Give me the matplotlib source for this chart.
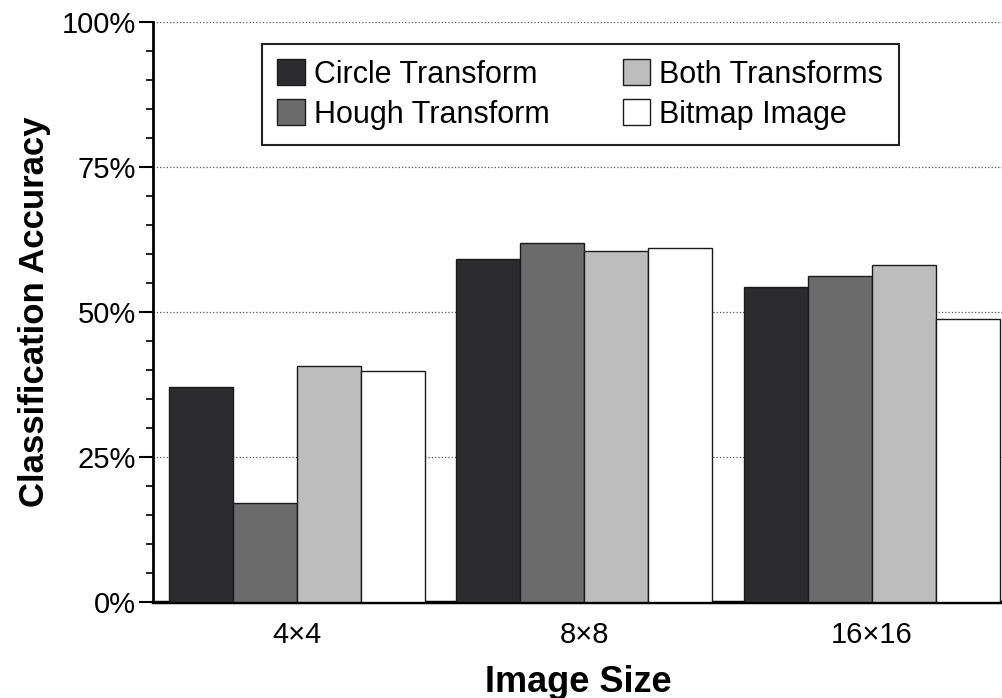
import matplotlib
matplotlib.use('Agg')
import matplotlib.pyplot as plt
from matplotlib.ticker import MultipleLocator, FuncFormatter
import numpy as np

sizes = ['4\u00d74', '8\u00d78', '16\u00d716']
series = ['Circle Transform', 'Hough Transform', 'Both Transforms', 'Bitmap Image']
circle = [37.1, 59.1, 54.3]
hough = [17.1, 61.9, 56.2]
both = [40.7, 60.5, 58.1]
bitmap = [39.8, 61.0, 48.8]

plt.rcParams['font.family'] = ['Liberation Sans', 'DejaVu Sans']

fig = plt.figure(figsize=(10.03, 6.98), dpi=100)
ax = fig.add_axes([0.1525, 0.1375, 0.8475, 0.831])

x = np.arange(len(sizes))
w = 0.2226
colors = ['#2c2c2e', '#6b6b6b', '#bdbdbd', '#ffffff']
for i, (name, vals) in enumerate(zip(series, [circle, hough, both, bitmap])):
    ax.bar(x + (i - 1.5) * w, vals, w, label=name, color=colors[i],
           edgecolor='#1a1a1a', linewidth=1.0, zorder=3)

ax.set_ylim(0, 100)
ax.set_xlim(-0.501, 2.456)
ax.yaxis.set_major_locator(MultipleLocator(25))
ax.yaxis.set_minor_locator(MultipleLocator(5))
ax.yaxis.set_major_formatter(FuncFormatter(lambda v, p: '%d%%' % v))
ax.set_xticks(x)
ax.set_xticklabels(sizes)
ax.tick_params(axis='x', length=0, labelsize=21, pad=14)
ax.tick_params(axis='y', which='major', length=10, width=1.5, labelsize=21, pad=2)
ax.tick_params(axis='y', which='minor', length=5, width=1.2)

ax.yaxis.grid(True, linestyle=':', color='#555555', linewidth=0.9, zorder=0)
ax.xaxis.grid(False)
ax.set_axisbelow(True)

for s in ['top', 'right']:
    ax.spines[s].set_visible(False)
ax.spines['left'].set_linewidth(2)
ax.spines['bottom'].set_linewidth(2.5)

ax.set_xlabel('Image Size', fontsize=26, fontweight='bold', labelpad=11)
ax.set_ylabel('Classification Accuracy', fontsize=25, fontweight='bold', labelpad=8)

leg = ax.legend(loc='upper left', bbox_to_anchor=(0.128, 0.962), ncol=2,
                fontsize=22, frameon=True, fancybox=False, borderpad=0.5,
                handlelength=0.9, handleheight=0.9, handletextpad=0.3,
                columnspacing=2.4, labelspacing=0.32, borderaxespad=0)
leg.get_frame().set_edgecolor('#222222')
leg.get_frame().set_linewidth(1.5)
leg.get_frame().set_alpha(1)

fig.savefig('out.png', dpi=100, facecolor='w', edgecolor='w')
